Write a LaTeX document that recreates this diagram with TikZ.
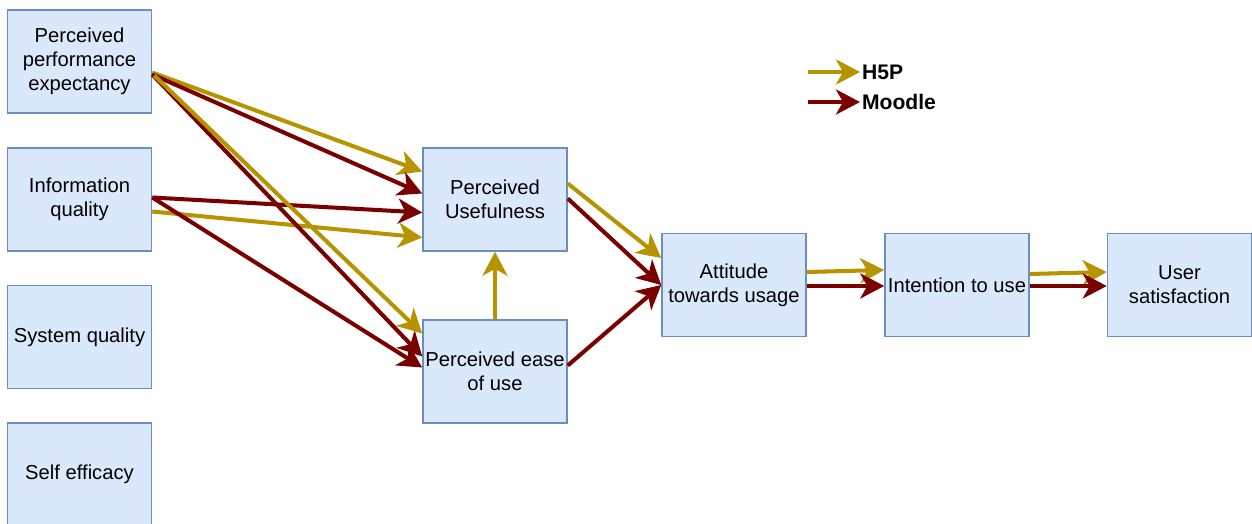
\documentclass[tikz,border=0pt]{standalone}
\usepackage{fontspec}
\setmainfont{Liberation Sans}
\usetikzlibrary{arrows.meta,calc}
\definecolor{boxfill}{HTML}{DAE8FC}
\definecolor{boxline}{HTML}{6C8EBF}
\definecolor{hfive}{RGB}{181,148,0}
\definecolor{moodle}{RGB}{122,0,0}

\begin{document}
\begin{tikzpicture}[
  x=0.02cm, y=-0.02cm,
  box/.style={draw=boxline, line width=0.9pt, fill=boxfill, minimum width=2.88cm, minimum height=2.06cm, inner sep=1pt, align=center, font=\fontsize{11.5}{13.8}\selectfont},
  legend/.style={anchor=west, inner sep=1pt, font=\fontsize{12}{14}\selectfont\bfseries},
  arr/.style={line width=2.3pt, -{Stealth[length=0.48cm, width=0.5cm, inset=0.14cm]}},
  harr/.style={arr, draw=hfive, fill=hfive},
  marr/.style={arr, draw=moodle, fill=moodle}
]
  \clip (0,0) rectangle (1252,524);

  % constructs
  \node[box] (ppe) at (79.5,61.5) {Perceived\\ performance\\ expectancy};
  \node[box] (iq) at (79.5,199.5) {Information\\ quality};
  \node[box] (sq) at (79.5,337) {System quality};
  \node[box] (se) at (79.5,474.5) {Self efficacy};
  \node[box] (pu) at (495,199.5) {Perceived\\ Usefulness};
  \node[box] (peu) at (495,371.5) {Perceived ease\\ of use};
  \node[box] (atu) at (734,285) {Attitude\\ towards usage};
  \node[box] (itu) at (957,285) {Intention to use};
  \node[box] (us) at (1179.5,285) {User\\ satisfaction};

  % legend
  \node[legend] (h5p) at (860,72) {H5P};
  \node[legend] (mdl) at (860,102) {Moodle};
  \coordinate (h5pstart) at (808,72);
  \coordinate (mdlstart) at (808,102);
  \draw[harr] (h5pstart) -- (h5p.west);
  \draw[marr] (mdlstart) -- (mdl.west);

  % into usefulness and ease of use
  \draw[harr] ($(ppe.east)+(0,11)$) -- ($(pu.west)+(0,-28)$);
  \draw[marr] ($(ppe.east)+(0,13)$) -- ($(pu.west)+(0,-6)$);
  \draw[marr] ($(iq.east)+(0,-2)$) -- ($(pu.west)+(0,13)$);
  \draw[harr] ($(iq.east)+(0,12)$) -- ($(pu.west)+(0,38)$);
  \draw[marr] ($(ppe.east)+(0,13)$) -- ($(peu.west)+(0,-15)$);
  \draw[harr] ($(ppe.east)+(2,14)$) -- ($(peu.west)+(0,-38)$);
  \draw[marr] ($(iq.east)+(0,-2)$) -- ($(peu.west)+(0,-4)$);
  \draw[harr] (peu.north) -- (pu.south);

  % towards attitude
  \draw[harr] ($(pu.east)+(0,-16)$) -- ($(atu.west)+(0,-27)$);
  \draw[marr] ($(pu.east)+(0,-1)$) -- ($(atu.west)+(0,0)$);
  \draw[marr] ($(peu.east)+(0,-6)$) -- ($(atu.west)+(0,0)$);

  % attitude -> intention -> satisfaction
  \draw[harr] ($(atu.east)+(0,-13)$) -- ($(itu.west)+(0,-15)$);
  \draw[marr] ($(atu.east)+(0,1)$) -- ($(itu.west)+(0,1)$);
  \draw[harr] ($(itu.east)+(0,-11)$) -- ($(us.west)+(0,-13)$);
  \draw[marr] ($(itu.east)+(0,1)$) -- ($(us.west)+(0,1)$);
\end{tikzpicture}
\end{document}
